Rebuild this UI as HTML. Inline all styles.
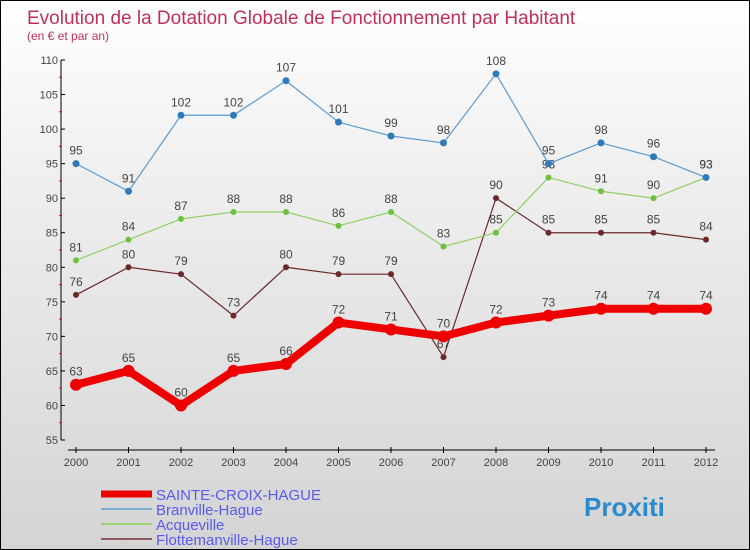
<!DOCTYPE html>
<html><head><meta charset="utf-8"><style>
body{margin:0}
#wrap{width:748px;height:548px;border:1px solid #000;background:linear-gradient(#ffffff,#f0f0f0 30%,#d4d4d4);position:relative;overflow:hidden;font-family:"Liberation Sans",sans-serif}
</style></head><body>
<div id="wrap">
<svg id="chart" width="748" height="548"></svg>
</div>
<script>
const years=[2000,2001,2002,2003,2004,2005,2006,2007,2008,2009,2010,2011,2012];
const sainteCroix=[63,65,60,65,66,72,71,70,72,73,74,74,74];
const branville=[95,91,102,102,107,101,99,98,108,95,98,96,93];
const acqueville=[81,84,87,88,88,86,88,83,85,93,91,90,93];
const flottemanville=[76,80,79,73,80,79,79,67,90,85,85,85,84];
const yTicks=[55,60,65,70,75,80,85,90,95,100,105,110];
const NS="http://www.w3.org/2000/svg";
const svg=document.getElementById('chart');
const X=i=>75+i*52.5;
const Y=v=>439-(v-55)*(380/55);
function mk(t,a,txt){const e=document.createElementNS(NS,t);for(const k in a)e.setAttribute(k,a[k]);if(txt!==undefined)e.textContent=txt;svg.appendChild(e);return e;}
let t=mk('text',{x:26,y:23,fill:'#c0305a','font-size':19},'Evolution de la Dotation Globale de Fonctionnement par Habitant');

t=mk('text',{x:26,y:39,fill:'#c0305a','font-size':12},'(en € et par an)');

let ax=mk('line',{x1:60,y1:Y(110),x2:60,y2:Y(55),stroke:'#000'});

ax=mk('line',{x1:67,y1:449,x2:714,y2:449,stroke:'#000'});

yTicks.forEach(v=>{
 mk('line',{x1:60,y1:Y(v),x2:64,y2:Y(v),stroke:'#000'});
 if(v<110){const m=mk('line',{x1:58,y1:Y(v+2.5),x2:61,y2:Y(v+2.5),stroke:'#f00'});}
 const l=mk('text',{x:57,y:Y(v)+4,'text-anchor':'end','font-size':11,fill:'#444'},v);
 
});
years.forEach((yr,i)=>{
 mk('line',{x1:X(i),y1:446,x2:X(i),y2:452,stroke:'#000'});
 const l=mk('text',{x:X(i),y:465,'text-anchor':'middle','font-size':11,fill:'#444'},yr);
 
});
function series(data,color,dot,w,r,name){
 const p=mk('polyline',{points:data.map((v,i)=>X(i)+','+Y(v)).join(' '),fill:'none',stroke:color,'stroke-width':w,'stroke-linejoin':'round'});
 
 data.forEach((v,i)=>{
  const c=mk('circle',{cx:X(i),cy:Y(v),r:r,fill:dot});
  
  const l=mk('text',{x:X(i),y:Y(v)-9,'text-anchor':'middle','font-size':12,fill:'#444'},v);
  
 });
}
series(flottemanville,'#6b2a2a','#6b2a2a',1.2,3,'flottemanville');
series(acqueville,'#90d060','#70c040',1.2,3,'acqueville');
series(branville,'#5b9bd0','#2f7ab8',1.2,3.5,'branville');
series(sainteCroix,'#ee0000','#ee0000',8,6,'sainte-croix');
const legend=[['SAINTE-CROIX-HAGUE','#ee0000',7],['Branville-Hague','#7aaed0',2],['Acqueville','#9ad070',2],['Flottemanville-Hague','#8a5a5a',2]];
legend.forEach((l,i)=>{
 const y=493+i*15;
 const ln=mk('line',{x1:100,y1:y,x2:151,y2:y,stroke:l[1],'stroke-width':l[2]});
 
 const tx=mk('text',{x:155,y:y+6,'font-size':15,fill:'#5a5aee'},l[0]);
 
});
const logo=mk('text',{x:583,y:515,'font-size':26,'font-weight':'bold',fill:'#2a8ad0'},'Proxiti');

</script>
</body></html>
